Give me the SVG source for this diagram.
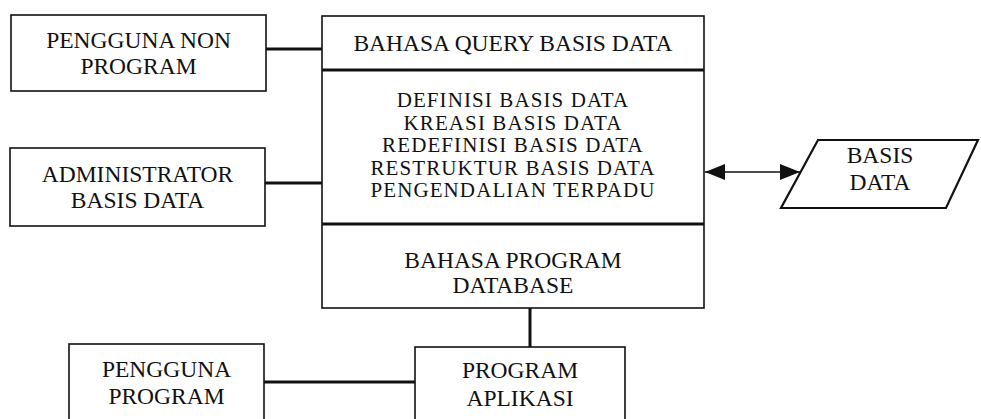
<svg xmlns="http://www.w3.org/2000/svg" width="981" height="419" viewBox="0 0 981 419">
  <style>
    .box { fill: #ffffff; stroke: #111111; stroke-width: 1.6; }
    .div { stroke: #111111; stroke-width: 3; }
    .link { stroke: #111111; stroke-width: 3; fill: none; }
    .txt { font-family: "Liberation Serif", "Times New Roman", serif; font-size: 23.5px; fill: #111111; text-anchor: middle; }
    .list { font-size: 21px; letter-spacing: 1.1px; }
  </style>
  <defs>
    <marker id="head" viewBox="0 0 20 16" refX="20" refY="8" markerWidth="20" markerHeight="16" markerUnits="userSpaceOnUse" orient="auto-start-reverse">
      <path d="M0,0 L20,8 L0,16 Z" fill="#111111"/>
    </marker>
  </defs>
  <rect width="981" height="419" fill="#ffffff"/>

  <!-- connectors -->
  <g id="connectors">
    <line class="link" x1="266" y1="49" x2="322" y2="49"/>
    <line class="link" x1="265" y1="183" x2="322" y2="183"/>
    <line class="link" x1="264" y1="382" x2="415" y2="382"/>
    <line class="link" x1="530" y1="308" x2="530" y2="347"/>
    <line stroke="#111111" stroke-width="1.6" x1="705" y1="172" x2="800" y2="172" marker-start="url(#head)" marker-end="url(#head)"/>
  </g>

  <g id="pengguna-non-program">
    <rect class="box" x="11" y="15" width="255" height="76"/>
    <text class="txt" x="138.5" y="48">PENGGUNA NON</text>
    <text class="txt" x="138.5" y="74">PROGRAM</text>
  </g>

  <g id="administrator">
    <rect class="box" x="10" y="148" width="255" height="78"/>
    <text class="txt" x="137.5" y="182">ADMINISTRATOR</text>
    <text class="txt" x="137.5" y="208">BASIS DATA</text>
  </g>

  <g id="dbms">
    <rect class="box" x="322" y="16" width="382" height="292"/>
    <line class="div" x1="322" y1="70" x2="704" y2="70"/>
    <line class="div" x1="322" y1="224" x2="704" y2="224"/>
    <text class="txt" x="513" y="51">BAHASA QUERY BASIS DATA</text>
    <text class="txt list" x="513" y="107">DEFINISI BASIS DATA</text>
    <text class="txt list" x="513" y="129.5">KREASI BASIS DATA</text>
    <text class="txt list" x="513" y="152">REDEFINISI BASIS DATA</text>
    <text class="txt list" x="513" y="174.5">RESTRUKTUR BASIS DATA</text>
    <text class="txt list" x="513" y="197">PENGENDALIAN TERPADU</text>
    <text class="txt" x="513" y="268">BAHASA PROGRAM</text>
    <text class="txt" x="513" y="293">DATABASE</text>
  </g>

  <g id="basis-data">
    <polygon points="818,140 978,140 946,208 781,208" fill="#ffffff" stroke="#111111" stroke-width="2.2"/>
    <text class="txt" x="880" y="163">BASIS</text>
    <text class="txt" x="880" y="190">DATA</text>
  </g>

  <g id="pengguna-program">
    <rect class="box" x="69" y="344" width="195" height="82"/>
    <text class="txt" x="166.5" y="377">PENGGUNA</text>
    <text class="txt" x="166.5" y="404">PROGRAM</text>
  </g>

  <g id="program-aplikasi">
    <rect class="box" x="415" y="347" width="210" height="80"/>
    <text class="txt" x="520" y="378">PROGRAM</text>
    <text class="txt" x="520" y="406">APLIKASI</text>
  </g>
</svg>
